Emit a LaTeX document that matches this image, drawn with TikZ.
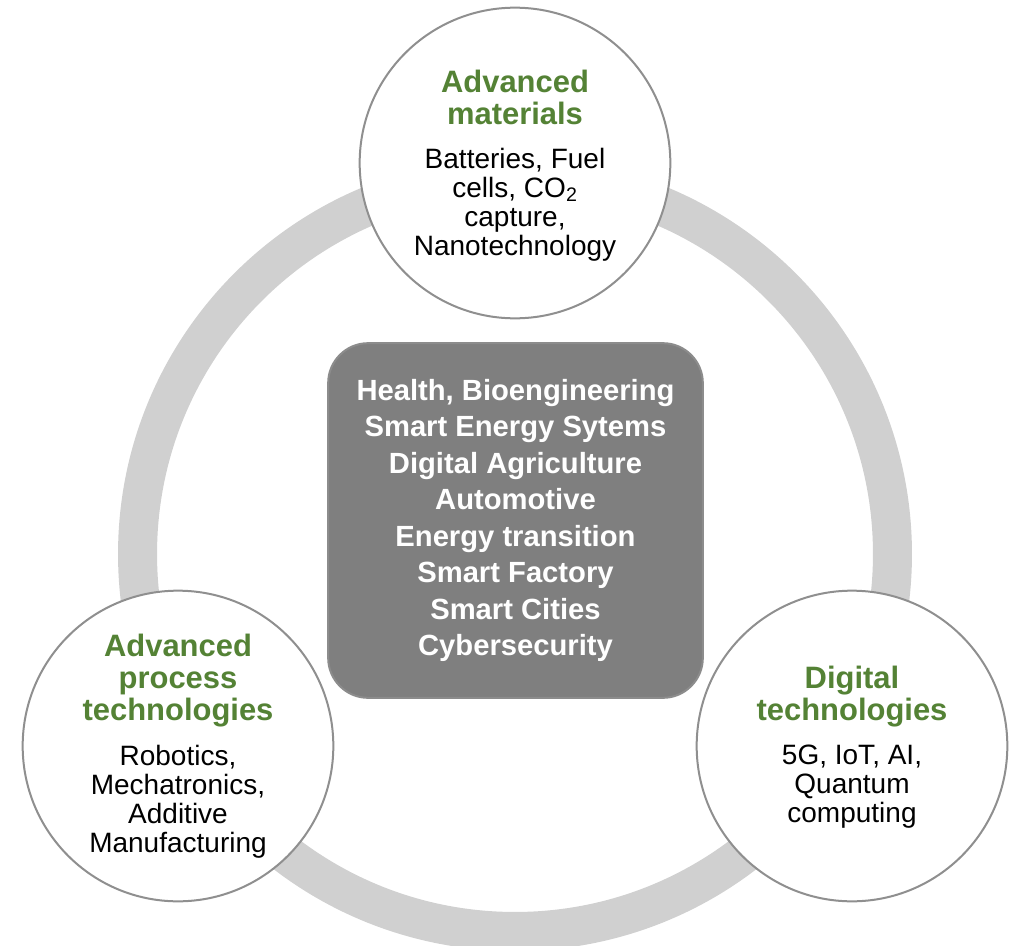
\documentclass[tikz,border=0pt]{standalone}
\usepackage{fontspec}
\setmainfont{Liberation Sans}
\definecolor{ringgray}{RGB}{208,208,208}
\definecolor{titlegreen}{RGB}{84,130,53}
\definecolor{boxfill}{RGB}{127,127,127}
\definecolor{boxedge}{RGB}{140,140,140}
\definecolor{bubedge}{RGB}{143,143,143}
\newcommand{\ttlfont}{\fontsize{23.2}{24}\selectfont\bfseries\color{titlegreen}}
\newcommand{\bdyfont}{\fontsize{21}{21.8}\selectfont\mdseries\color{black}\spaceskip=0.278em\relax}
\begin{document}
\begin{tikzpicture}[x=0.75pt,y=-0.75pt,
  ring/.style={draw=ringgray,line width=29.25pt},
  bubble/.style={circle,draw=bubedge,line width=1.5pt,fill=white,minimum size=233pt,inner sep=0pt},
  bubtext/.style={align=center,text width=170pt,inner sep=0pt},
  corebox/.style={rectangle,rounded corners=30pt,draw=boxedge,line width=1.5pt,fill=boxfill,
    minimum width=281pt,minimum height=266pt,align=center,text=white,
    font=\fontsize{21.9}{27.4}\selectfont\bfseries}]
\useasboundingbox (0,0) rectangle (1018,946);
\draw[ring] (515,554) circle[radius=283.1pt];
\node[corebox] (core) at (515.5,520.5) {Health, Bioengineering\\Smart Energy Sytems\\Digital Agriculture\\Automotive\\Energy transition\\Smart Factory\\Smart Cities\\Cybersecurity};
\node[bubble] (amat) at (515,163) {};
\node[bubtext] (amat-text) at ([yshift=-2pt]amat.center) {{\ttlfont Advanced\\materials\par}\vspace{11pt}{\bdyfont Batteries, Fuel\\cells, CO\textsubscript{2}\\capture,\\Nanotechnology\par}};
\node[bubble] (aproc) at (178,746) {};
\node[bubtext] (aproc-text) at (aproc) {{\ttlfont Advanced\\process\\technologies\par}\vspace{12pt}{\bdyfont Robotics,\\Mechatronics,\\Additive\\Manufacturing\par}};
\node[bubble] (digit) at (852,746) {};
\node[bubtext] (digit-text) at ([yshift=-1pt]digit.center) {{\ttlfont Digital\\technologies\par}\vspace{11pt}{\bdyfont 5G, IoT, AI,\\Quantum\\computing\par}};
\end{tikzpicture}
\end{document}
